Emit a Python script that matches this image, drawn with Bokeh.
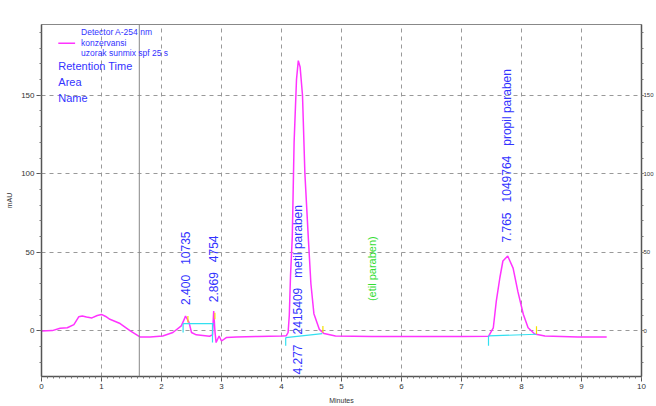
import numpy as np
from bokeh.plotting import figure
from bokeh.models import LinearAxis, Range1d, Span, Label, FixedTicker
from bokeh.embed import file_html
from bokeh.resources import INLINE
from bokeh.core.properties import value

# ---------------- data ----------------
time_min = [0.00, 0.18, 0.31, 0.43, 0.54, 0.62, 0.68, 0.75, 0.84, 0.93, 1.00,
            1.07, 1.14, 1.31, 1.48, 1.64, 1.81, 2.02, 2.19, 2.33, 2.38, 2.40,
            2.43, 2.46, 2.50, 2.58, 2.80, 2.85, 2.87, 2.89, 2.91, 2.96, 3.00,
            3.08, 3.25, 3.60, 4.00, 4.08, 4.11, 4.13, 4.15, 4.18, 4.21, 4.25,
            4.28, 4.31, 4.35, 4.39, 4.45, 4.49, 4.54, 4.63, 4.71, 4.90, 5.50,
            6.50, 7.00, 7.45, 7.53, 7.58, 7.64, 7.69, 7.77, 7.86, 7.94, 8.03,
            8.11, 8.22, 8.39, 8.94, 9.42]
signal_mau = [0.0, 0.2, 1.7, 2.0, 4.0, 9.0, 9.5, 8.8, 8.3, 9.8, 10.5,
              9.2, 7.4, 4.7, 0.0, -3.8, -3.8, -3.2, -1.0, 3.2, 7.5, 9.5,
              7.5, 5.3, -1.0, -2.5, -3.4, -2.5, 12.7, 0.0, -7.4, -3.2, -6.4,
              -4.2, -3.8, -3.5, -3.2, -3.0, -1.0, 10.0, 35.0, 60.0, 120.0, 160.0,
              172.0, 168.0, 150.0, 100.0, 57.0, 30.0, 11.0, 1.0, -1.7, -3.2, -3.5,
              -3.6, -3.6, -3.4, 2.0, 19.0, 34.0, 44.5, 47.7, 40.0, 25.0, 10.6,
              2.0, -2.0, -3.2, -3.8, -3.8]

# peak annotations
peak_rt = [2.400, 2.869, 4.277, 7.765]
peak_area = [10735, 4754, 2415409, 1049764]
peak_name = ["", "", "metil paraben", "propil paraben"]
peak_label_y = [15.3, 17.0, -29.0, 55.0]

# integration baselines (cyan)
base_x0 = [2.36, 2.36, 2.85, 4.07, 4.07, 7.45, 7.45]
base_y0 = [4.7, 4.7, 4.7, -4.2, -4.2, -3.2, -3.2]
base_x1 = [2.87, 2.36, 2.85, 4.68, 4.07, 8.25, 7.45]
base_y1 = [4.7, -1.0, -7.4, -1.7, -9.5, -2.1, -9.5]

# peak end markers (yellow)
mark_x = [2.44, 2.89, 4.69, 8.25]
mark_y0 = [5.3, 7.4, -1.0, -2.0]
mark_y1 = [9.5, 11.6, 3.2, 3.0]

x_ticks = list(range(0, 11))
y_ticks = [0, 50, 100, 150]
marker_time = 1.63

BLUE = "#3333ff"
FONT = "Liberation Sans"
GAP = "\u00a0\u00a0\u00a0"

# ---------------- figure ----------------
p = figure(width=656, height=406, x_range=Range1d(0, 10), y_range=Range1d(-29, 195),
           output_backend="svg", toolbar_location=None,
           min_border_left=41, min_border_right=12, min_border_top=24,
           min_border_bottom=30, background_fill_color="white",
           border_fill_color="white", outline_line_color="#888888",
           outline_line_width=1)

for g, t in ((p.xgrid, x_ticks), (p.ygrid, y_ticks)):
    g.ticker = FixedTicker(ticks=t)
    g.grid_line_color = "#999999"
    g.grid_line_dash = "4 4"
    g.grid_line_width = 1

xa = p.xaxis[0]
xa.ticker = FixedTicker(ticks=x_ticks, minor_ticks=list(np.round(np.arange(0, 10.01, 0.1), 2)))
xa.axis_label = "Minutes"
ya = p.yaxis[0]
ya.ticker = FixedTicker(ticks=y_ticks, minor_ticks=list(range(-20, 191, 10)))
ya.axis_label = "mAU"

ra = LinearAxis(ticker=FixedTicker(ticks=y_ticks, minor_ticks=list(range(-20, 191, 10))))
p.add_layout(ra, "right")

for ax in (xa, ya, ra):
    ax.axis_line_color = "#555555"
    ax.axis_line_width = 1.5
    ax.major_tick_line_color = "#555555"
    ax.minor_tick_line_color = "#777777"
    ax.major_tick_out = 5
    ax.major_tick_in = 0
    ax.minor_tick_out = 2
    ax.minor_tick_in = 0
    ax.major_label_text_font = FONT
    ax.major_label_text_font_size = "8px"
    ax.major_label_text_color = "#333333"
    ax.major_label_standoff = 2
    ax.axis_label_text_font = FONT
    ax.axis_label_text_font_size = "7px"
    ax.axis_label_text_font_style = "normal"
    ax.axis_label_text_color = "#333333"
    ax.axis_label_standoff = 5
ra.major_label_standoff = 0
ra.major_tick_out = 2
ra.major_label_text_font_size = "6px"

# marker line
p.add_layout(Span(location=marker_time, dimension="height", line_color="#888888",
                  line_width=1))

# trace
p.line(time_min, signal_mau, line_color="#ff33ff", line_width=1.5)

# integration baselines
p.segment(base_x0, base_y0, base_x1, base_y1, line_color="#33e0f0", line_width=1.2)
p.segment(mark_x, mark_y0, mark_x, mark_y1, line_color="#f5e000", line_width=1.2)

# peak labels
peak_text = [("%.3f%s%d%s%s" % (rt, GAP, a, GAP, n)).strip("\u00a0 ")
             for rt, a, n in zip(peak_rt, peak_area, peak_name)]
p.text(peak_rt, peak_label_y, text=peak_text, angle=np.pi / 2, text_align="left",
       text_baseline="middle", text_font=value(FONT), text_font_size="12px",
       text_color=BLUE, y_offset=-2)
p.text([5.5], [19.0], text=["(etil paraben)"], angle=np.pi / 2, text_align="left",
       text_baseline="middle", text_font=value(FONT), text_font_size="11px",
       text_color="#33dd33")

# legend block
p.line([0.28, 0.56], [183, 183], line_color="#ff33ff", line_width=1.5)
for txt, yy in (("Detector A-254 nm", 190.5),
                ("konzervansi", 183.5),
                ("uzorak sunmix spf 25 s", 177.0)):
    p.add_layout(Label(x=0.66, y=yy, text=txt, text_font=FONT, text_font_size="8.5px",
                       text_color=BLUE, text_baseline="middle"))
for txt, yy in (("Retention Time", 168.5), ("Area", 158.3), ("Name", 148.0)):
    p.add_layout(Label(x=0.28, y=yy, text=txt, text_font=FONT, text_font_size="11px",
                       text_color=BLUE, text_baseline="middle"))

open("out.html", "w").write(file_html(p, INLINE))
